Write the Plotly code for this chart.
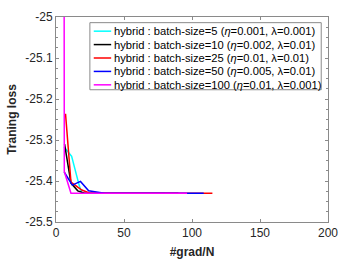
import plotly.graph_objects as go

# ---- data ----
labels = [
    "hybrid : batch-size=5 (<i>η</i>=0.001, λ=0.001)",
    "hybrid : batch-size=10 (<i>η</i>=0.002, λ=0.01)",
    "hybrid : batch-size=25 (<i>η</i>=0.01, λ=0.01)",
    "hybrid : batch-size=50 (<i>η</i>=0.005, λ=0.01)",
    "hybrid : batch-size=100 (<i>η</i>=0.01, λ=0.001)",
]
colors = ["#00FFFF", "#000000", "#FF0000", "#0000FF", "#FF00FF"]

x_bs5 = [6, 11.5, 17, 19, 40, 60, 80]
y_bs5 = [-25.317, -25.34, -25.41, -25.43, -25.43, -25.43, -25.43]

x_bs10 = [6.3, 11, 16, 21, 45, 70, 90]
y_bs10 = [-25.31, -25.405, -25.424, -25.43, -25.43, -25.43, -25.43]

x_bs25 = [7, 11, 19, 25, 50, 80, 115]
y_bs25 = [-25.236, -25.403, -25.422, -25.43, -25.43, -25.43, -25.43]

x_bs50 = [6, 12, 18, 24, 32, 36, 60, 85, 108.6]
y_bs50 = [-25.378, -25.41, -25.401, -25.424, -25.428, -25.43, -25.43, -25.43, -25.43]

x_bs100 = [5.9, 6.1, 11, 40, 70, 96.4]
y_bs100 = [-24.6, -25.377, -25.43, -25.43, -25.43, -25.43]

xs = [x_bs5, x_bs10, x_bs25, x_bs50, x_bs100]
ys = [y_bs5, y_bs10, y_bs25, y_bs50, y_bs100]

x_tick_vals = [0, 50, 100, 150, 200]
x_tick_text = ["0", "50", "100", "150", "200"]
y_tick_vals = [-25.5, -25.4, -25.3, -25.2, -25.1, -25.0]
y_tick_text = ["-25.5", "-25.4", "-25.3", "-25.2", "-25.1", "-25"]

# ---- layout geometry ----
W, H = 348, 267
ML, MR, MT, MB = 56, 11, 10, 40
PW, PH = W - ML - MR, H - MT - MB

def px_x(p):
    return (p - ML) / PW

def px_y(p):
    return (H - MB - p) / PH

fig = go.Figure()
for x, y, c, name in zip(xs, ys, colors, labels):
    fig.add_trace(go.Scatter(x=x, y=y, mode="lines", name=name,
                             line=dict(color=c, width=1.5), showlegend=False,
                             hoverinfo="skip"))

axis_col = "#8a8a8a"
FONT = "Liberation Sans, Arial, sans-serif"
tick_font = dict(family=FONT, size=12, color="#262626")

fig.update_xaxes(range=[0, 200], tickvals=x_tick_vals, ticktext=x_tick_text,
                 ticks="inside", ticklen=3, tickcolor=axis_col, tickwidth=1,
                 showline=True, linecolor=axis_col, linewidth=1, mirror="ticks",
                 showgrid=False, zeroline=False, tickfont=tick_font,
                 ticklabeloverflow="allow",
                 title=dict(text="<b>#grad/N</b>", font=dict(family=FONT, size=12, color="#262626"), standoff=8))
fig.update_yaxes(range=[-25.5, -25.0], tickvals=y_tick_vals, ticktext=y_tick_text,
                 ticks="inside", ticklen=3, tickcolor=axis_col, tickwidth=1,
                 minor=dict(dtick=0.025, ticks="inside", ticklen=2, tickcolor=axis_col),
                 showline=True, linecolor=axis_col, linewidth=1, mirror="ticks",
                 showgrid=False, zeroline=False, tickfont=tick_font,
                 ticklabeloverflow="allow",
                 title=dict(text="<b>Traning loss</b>", font=dict(family=FONT, size=12, color="#262626"), standoff=6))

# ---- manual legend (compact rows like the original) ----
box_l, box_r, box_t, box_b = 91, 330, 16, 87
fig.add_shape(type="rect", xref="paper", yref="paper",
              x0=px_x(box_l), x1=px_x(box_r), y0=px_y(box_b), y1=px_y(box_t),
              line=dict(color=axis_col, width=1), fillcolor="white", layer="above")
rows = [25, 39.2, 53.4, 67.6, 81.8]
for r, c, name in zip(rows, colors, labels):
    fig.add_shape(type="line", xref="paper", yref="paper",
                  x0=px_x(95), x1=px_x(113), y0=px_y(r), y1=px_y(r),
                  line=dict(color=c, width=1.5), layer="above")
    fig.add_annotation(xref="paper", yref="paper", x=px_x(113.5), y=px_y(r),
                       xanchor="left", yanchor="middle", showarrow=False, text=name,
                       font=dict(family=FONT, size=11.2, color="#000000"))

fig.update_layout(width=W, height=H, margin=dict(l=ML, r=MR, t=MT, b=MB),
                  paper_bgcolor="white", plot_bgcolor="white", showlegend=False,
                  hovermode=False)

fig.write_html("out.html",
               config={"displayModeBar": False, "staticPlot": True},
               post_script="document.documentElement.style.margin='0';"
                           "document.body.style.margin='0';"
                           "document.body.style.overflow='hidden';")
